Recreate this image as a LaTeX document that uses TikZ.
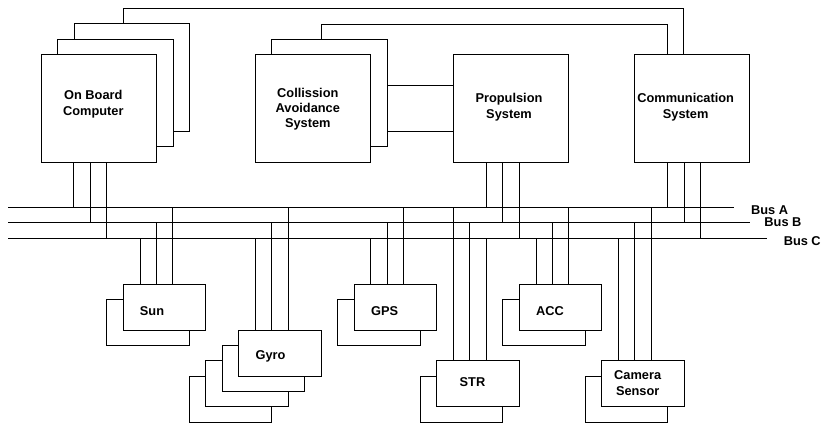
\documentclass[tikz,border=0pt]{standalone}
\usepackage{fontspec}
\setmainfont{Liberation Sans}
\usetikzlibrary{positioning,calc}

\tikzset{
  bigbox/.style={draw, fill=white, minimum width=115.5, minimum height=107.7, inner sep=0},
  smallbox/.style={draw, fill=white, minimum width=82.5, minimum height=46, inner sep=0},
  lbl/.style={font=\bfseries\fontsize{12.8}{15.3}\selectfont, align=center, inner sep=0},
}

\begin{document}
\begin{tikzpicture}[x=1pt, y=-1pt, line width=0.9pt]
\useasboundingbox (0,0) rectangle (822,424);

% BUSES

\coordinate (busA) at (8,207.5);
\coordinate (busB) at (8,222.8);
\coordinate (busC) at (8,238.5);
\coordinate (busAe) at (733.7,207.5);
\coordinate (busBe) at (750,222.8);
\coordinate (busCe) at (766.7,238.5);

\draw[-] (busA) -- (busAe);
\draw[-] (busB) -- (busBe);
\draw[-] (busC) -- (busCe);

\node[lbl, anchor=base west] (labA) at (750.7,214.7) {Bus A};
\node[lbl, anchor=base west] (labB) at (764,226.7)   {Bus B};
\node[lbl, anchor=base west] (labC) at (783.3,245)   {Bus C};

% UPPER SYSTEMS

\node[bigbox] (obc3) at (131.7,77.6) {};
\node[bigbox] (obc2) at ($(obc3)+(-16.5,15.3)$) {};
\node[bigbox] (obc)  at ($(obc2)+(-16.5,15.3)$) {};
\node[lbl] (obct) at ($(obc)+(-5.4,-4)$) {On Board\\Computer};

\node[bigbox] (cas2) at (329.3,92.9) {};
\node[bigbox] (cas)  at ($(cas2)+(-16.5,15.3)$) {};
\node[lbl] (cast) at ($(cas)+(-5,0.8)$) {Collission\\Avoidance\\System};

\node[bigbox] (prop) at (511,108.2) {};
\node[lbl] (propt) at ($(prop)+(-2,-0.9)$) {Propulsion\\System};

\node[bigbox] (comm) at (692.1,108.2) {};
\node[lbl] (commt) at ($(comm)+(-6.4,-0.9)$) {Communication\\System};

\draw[-] (123.3,0 |- obc3.north) -- (123.3,8.7) -| (683.7,0 |- comm.north);
\draw[-] (321,0 |- cas2.north) -- (321,24) -| (667.3,0 |- comm.north);
\draw[-] (cas2.east |- 0,85.3)  -- (prop.west |- 0,85.3);
\draw[-] (cas2.east |- 0,131.3) -- (prop.west |- 0,131.3);

\draw[-] (73.7,0 |- obc.south)  -- (73.7,0 |- busA);
\draw[-] (90.3,0 |- obc.south)  -- (90.3,0 |- busB);
\draw[-] (106.7,0 |- obc.south) -- (106.7,0 |- busC);

\draw[-] (486.5,0 |- prop.south) -- (486.5,0 |- busA);
\draw[-] (502.7,0 |- prop.south) -- (502.7,0 |- busB);
\draw[-] (519.2,0 |- prop.south) -- (519.2,0 |- busC);

\draw[-] (667.7,0 |- comm.south) -- (667.7,0 |- busA);
\draw[-] (684,0 |- comm.south)   -- (684,0 |- busB);
\draw[-] (700.3,0 |- comm.south) -- (700.3,0 |- busC);

% SENSORS

\node[smallbox] (sun2) at (148,322.6) {};
\node[smallbox] (sun)  at ($(sun2)+(16.5,-15.3)$) {};
\node[lbl] (sunt) at ($(sun)+(-12.5,3.4)$) {Sun};

\node[smallbox] (gyro4) at (230.5,399.1) {};
\node[smallbox] (gyro3) at ($(gyro4)+(16.5,-15.3)$) {};
\node[smallbox] (gyro2) at ($(gyro3)+(16.5,-15.3)$) {};
\node[smallbox] (gyro)  at ($(gyro2)+(16.5,-15.3)$) {};
\node[lbl] (gyrot) at ($(gyro)+(-9.5,3.5)$) {Gyro};

\node[smallbox] (gps2) at (378.8,322.6) {};
\node[smallbox] (gps)  at ($(gps2)+(16.5,-15.3)$) {};
\node[lbl] (gpst) at ($(gps)+(-10.6,3.4)$) {GPS};

\node[smallbox] (str2) at (461.5,399.1) {};
\node[smallbox] (str)  at ($(str2)+(16.5,-15.3)$) {};
\node[lbl] (strt) at ($(str)+(-5.5,-2)$) {STR};

\node[smallbox] (acc2) at (544,322.6) {};
\node[smallbox] (acc)  at ($(acc2)+(16.5,-15.3)$) {};
\node[lbl] (acct) at ($(acc)+(-10.5,3.4)$) {ACC};

\node[smallbox] (cam2) at (626.5,399.1) {};
\node[smallbox] (cam)  at ($(cam2)+(16.5,-15.3)$) {};
\node[lbl] (camt) at ($(cam)+(-5.3,-0.8)$) {Camera\\Sensor};

\draw[-] (140,0 |- sun.north)   -- (140,0 |- busC);
\draw[-] (156.3,0 |- sun.north) -- (156.3,0 |- busB);
\draw[-] (172.7,0 |- sun.north) -- (172.7,0 |- busA);

\draw[-] (255.3,0 |- gyro.north) -- (255.3,0 |- busC);
\draw[-] (271.7,0 |- gyro.north) -- (271.7,0 |- busB);
\draw[-] (288.3,0 |- gyro.north) -- (288.3,0 |- busA);

\draw[-] (370.7,0 |- gps.north) -- (370.7,0 |- busC);
\draw[-] (387.3,0 |- gps.north) -- (387.3,0 |- busB);
\draw[-] (403.7,0 |- gps.north) -- (403.7,0 |- busA);

\draw[-] (453.3,0 |- str.north) -- (453.3,0 |- busA);
\draw[-] (469.7,0 |- str.north) -- (469.7,0 |- busB);
\draw[-] (486,0 |- str.north)   -- (486,0 |- busC);

\draw[-] (536,0 |- acc.north)   -- (536,0 |- busC);
\draw[-] (552.3,0 |- acc.north) -- (552.3,0 |- busB);
\draw[-] (568.7,0 |- acc.north) -- (568.7,0 |- busA);

\draw[-] (618.2,0 |- cam.north) -- (618.2,0 |- busC);
\draw[-] (634.5,0 |- cam.north) -- (634.5,0 |- busB);
\draw[-] (651,0 |- cam.north)   -- (651,0 |- busA);

\end{tikzpicture}
\end{document}
